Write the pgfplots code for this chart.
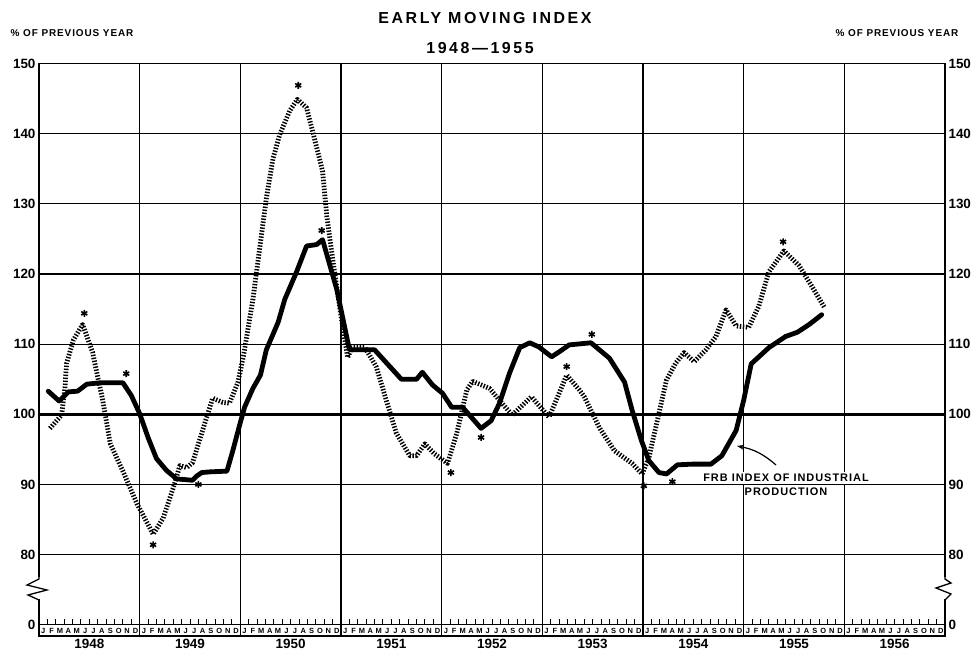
\documentclass[border=0pt]{standalone}
\usepackage{pgfplots}
\pgfplotsset{compat=1.18}
\usepackage{pgfplotstable}
\usepackage{fontspec}
\setmainfont{Liberation Sans}
\newfontfamily\lsf{Liberation Sans}[LetterSpace=9]
\newfontfamily\tsf{Liberation Sans}[LetterSpace=16]
\usetikzlibrary{arrows.meta}

% x = months since Jan 1 1948 (0 = start of 1948), y = % of previous year
\pgfplotstableread{
x y
1.1 103.3
2.4 101.9
3.5 103.2
4.6 103.3
5.7 104.3
7.3 104.5
10.0 104.5
11.0 102.7
12.0 100.1
13.0 96.7
14.0 93.7
15.2 92.0
16.4 90.8
18.3 90.6
18.8 91.2
19.4 91.7
20.4 91.8
22.4 91.9
23.1 94.8
23.9 98.4
24.5 101.0
25.5 103.7
26.4 105.6
27.1 109.2
28.5 113.1
29.3 116.4
30.7 120.3
31.9 124.0
33.1 124.2
33.8 124.9
35.5 117.8
37.0 109.2
40.0 109.2
43.2 105.0
45.0 105.0
45.7 106.0
46.9 104.2
48.1 103.0
49.2 101.0
50.5 101.0
52.7 98.0
53.9 99.1
54.9 101.6
56.1 105.9
57.3 109.5
58.5 110.2
59.6 109.6
61.1 108.2
62.0 108.9
63.2 109.9
65.8 110.2
68.0 108.0
69.8 104.6
70.7 100.6
71.8 96.3
72.7 93.4
73.9 91.7
74.8 91.5
76.1 92.8
77.9 92.9
80.1 92.9
81.4 94.1
83.1 97.7
84.0 102.0
84.9 107.2
87.0 109.5
89.0 111.1
90.4 111.7
91.8 112.8
93.3 114.2
}\frb

\pgfplotstableread{
x y
1.3 98.0
2.7 99.9
3.1 103.9
3.3 107.3
4.1 110.6
5.2 112.8
6.4 108.8
7.0 105.3
7.6 102.0
8.5 95.8
10.0 91.9
11.7 87.2
13.0 84.3
13.6 82.9
14.8 85.2
16.0 89.5
16.8 92.7
17.6 92.4
18.3 93.1
19.5 97.7
20.7 102.3
21.9 101.7
22.7 101.6
23.7 104.5
24.4 108.5
25.5 116.4
26.3 123.6
27.1 130.8
27.9 136.5
28.7 139.9
29.9 143.3
30.8 144.9
31.9 143.7
32.9 139.0
33.8 134.7
34.3 128.3
35.0 122.2
36.0 114.0
36.8 108.1
37.3 109.5
38.8 109.6
40.2 106.8
41.4 102.0
42.6 97.3
44.2 94.1
45.0 94.1
46.0 95.8
47.1 94.4
48.7 93.0
49.8 97.3
51.0 103.5
51.7 104.7
53.7 103.7
54.9 102.0
56.4 99.9
58.7 102.5
60.8 99.6
62.0 103.0
62.9 105.6
64.4 103.5
65.0 102.5
66.8 98.1
68.6 94.8
70.7 93.0
71.9 91.5
72.7 93.8
73.7 99.1
74.8 104.9
75.9 107.3
76.9 108.8
78.1 107.5
79.5 109.2
80.7 111.1
81.9 114.9
83.1 112.6
84.6 112.4
85.8 115.4
87.0 120.3
88.8 123.3
90.6 121.2
92.1 118.3
93.6 115.3
}\emi

\pgfplotstableread{
x y
5.4 114.4
10.4 105.8
13.6 81.4
19.0 90.0
30.9 146.9
33.7 126.2
49.1 91.7
52.7 96.7
62.9 106.8
65.9 111.4
72.1 89.8
75.5 90.4
88.7 124.6
}\turns

\begin{document}
\begin{tikzpicture}
\useasboundingbox (0,0) rectangle (979bp,652bp);
\begin{axis}[
  at={(39bp,16bp)}, anchor=south west, scale only axis,
  width=906bp, height=572.4bp,
  xmin=0, xmax=108, ymin=68.4, ymax=150,
  axis line style={line width=1.3bp},
  major tick length=0,
  xtick={6,18,30,42,54,66,78,90,102},
  xticklabels={1948,1949,1950,1951,1952,1953,1954,1955,1956},
  xticklabel style={font=\bfseries\fontsize{13.5}{13.5}\selectfont},
  extra x ticks={12,24,36,48,60,72,84,96},
  extra x tick labels={},
  extra x tick style={grid=major, major tick length=0},
  ytick={70,80,90,100,110,120,130,140,150},
  yticklabels={0,80,90,100,110,120,130,140,150},
  yticklabel style={font=\bfseries\fontsize{13.5}{13.5}\selectfont},
  extra y ticks={100}, extra y tick labels={},
  extra y tick style={major grid style={line width=2.8bp, black}},
  ymajorgrids,
  major grid style={line width=1.1bp, black},
  /pgf/number format/assume math mode=true,
]
\addplot[black, line width=4.8bp, line join=round, line cap=round] table[x=x,y=y]{\frb};
\addplot[black, line width=4.8bp, dash pattern=on 1.4bp off 1.6bp, line join=round] table[x=x,y=y]{\emi};
\addplot[only marks, mark=asterisk, mark size=3.5bp, mark options={line width=1.6bp, black}] table[x=x,y=y]{\turns};
\end{axis}
\begin{axis}[
  at={(39bp,16bp)}, anchor=south west, scale only axis,
  width=906bp, height=572.4bp,
  xmin=0, xmax=108, ymin=68.4, ymax=150,
  hide x axis, axis y line*=right, axis line style={draw=none},
  major tick length=0,
  ytick={70,80,90,100,110,120,130,140,150},
  yticklabels={0,80,90,100,110,120,130,140,150},
  yticklabel style={font=\bfseries\fontsize{13.5}{13.5}\selectfont},
  /pgf/number format/assume math mode=true,
]
\end{axis}
% month strip
\foreach \yr in {0,...,8}{
  \foreach \m [count=\i from 0] in {J,F,M,A,M,J,J,A,S,O,N,D}{
    \pgfmathsetmacro\xx{39+8.38889*(\yr*12+\i+0.5)}
    \node[font=\bfseries\fontsize{7.5}{7.5}\selectfont, inner sep=0pt] at (\xx bp,21.4bp) {\m};
  }
  \foreach \i in {1,...,11}{
    \pgfmathsetmacro\xt{39+8.38889*(\yr*12+\i)}
    \draw[line width=1bp] (\xt bp,27.2bp) -- ++(0,5.5bp);
  }
}
\draw[line width=1.1bp] (39bp,27.2bp) -- (945bp,27.2bp);
% axis breaks
\fill[white] (35bp,53bp) rectangle (43bp,75bp);
\draw[line width=1.3bp] (39bp,76bp) -- (39bp,73bp) -- (27bp,67bp) -- (47bp,62bp) -- (28bp,57bp) -- (39bp,52bp);
\fill[white] (941bp,53bp) rectangle (948bp,75bp);
\draw[line width=1.3bp] (945bp,76bp) -- (945bp,73bp) -- (951bp,69bp) -- (936bp,64bp) -- (951bp,58bp) -- (945bp,52bp);
% titles
\node[font=\tsf\bfseries\fontsize{16}{16}\selectfont] at (485bp,634bp) {EARLY MOVING INDEX};
\node[font=\tsf\bfseries\fontsize{16}{16}\selectfont] at (480bp,603.5bp) {1948—1955};
\node[font=\lsf\bfseries\fontsize{10}{10}\selectfont] at (72bp,619bp) {\% OF PREVIOUS YEAR};
\node[font=\lsf\bfseries\fontsize{10}{10}\selectfont] at (897bp,619bp) {\% OF PREVIOUS YEAR};
% annotation
\node[fill=white, inner sep=2bp, font=\lsf\bfseries\fontsize{11}{11}\selectfont] at (786bp,174bp) {FRB INDEX OF INDUSTRIAL};
\node[inner sep=1bp, font=\lsf\bfseries\fontsize{11}{11}\selectfont] at (786bp,160bp) {PRODUCTION};
\draw[-{Stealth[length=7bp,width=5bp]}, line width=1.2bp] (776bp,187bp) to[bend right=15] (737bp,206bp);
\end{tikzpicture}
\end{document}
